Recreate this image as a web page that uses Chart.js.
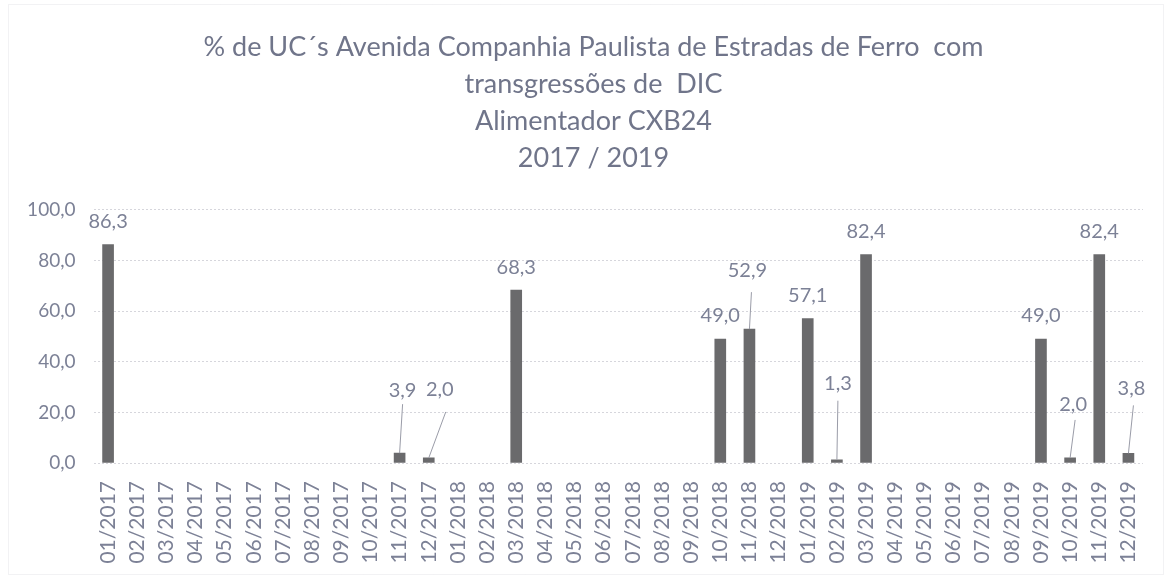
<!DOCTYPE html>
<html><head><meta charset="utf-8">
<script src="https://cdn.jsdelivr.net/npm/chart.js@4/dist/chart.umd.min.js"></script>
<style>html,body{margin:0;padding:0;background:#fff}#wrap{width:1171px;height:579px}</style>
</head><body><div id="wrap"><canvas id="c" width="1171" height="579"></canvas></div>
<script>
const titleLines = ["% de UC\u00b4s Avenida Companhia Paulista de Estradas de Ferro  com", "transgress\u00f5es de  DIC", "Alimentador CXB24", "2017 / 2019"];
const categories = ["01/2017","02/2017","03/2017","04/2017","05/2017","06/2017","07/2017","08/2017","09/2017","10/2017","11/2017","12/2017",
"01/2018","02/2018","03/2018","04/2018","05/2018","06/2018","07/2018","08/2018","09/2018","10/2018","11/2018","12/2018",
"01/2019","02/2019","03/2019","04/2019","05/2019","06/2019","07/2019","08/2019","09/2019","10/2019","11/2019","12/2019"];
const values = [86.3,null,null,null,null,null,null,null,null,null,3.9,2.0,
null,null,68.3,null,null,null,null,null,null,49.0,52.9,null,
57.1,1.3,82.4,null,null,null,null,null,49.0,2.0,82.4,3.8];
const yTicks = [0,20,40,60,80,100];
// label placement (pixel offsets from bar top) for labels with leader lines
const labelOffsets = {10:{dx:3,dy:-63,lx:3,ly:-49}, 11:{dx:11,dy:-68,lx:17,ly:-46}, 22:{dx:-2,dy:-59,lx:2,ly:-37},
  25:{dx:1,dy:-76,lx:1,ly:-59}, 33:{dx:3,dy:-53,lx:5,ly:-38}, 35:{dx:3,dy:-65,lx:5,ly:-48}};

const fmt = v => v.toFixed(1).replace('.', ',');
const TEXT = '#7c8196';

const labelPlugin = {
  id: 'labels',
  afterLayout(chart) {
    if (chart.titleBlock) { chart.titleBlock.left = 44; }
  },
  afterDatasetsDraw(chart) {
    const ctx = chart.ctx;
    const meta = chart.getDatasetMeta(0);
    ctx.save();
    ctx.font = '20px Lato';
    ctx.fillStyle = TEXT;
    ctx.textAlign = 'center';
    ctx.textBaseline = 'middle';
    meta.data.forEach((bar, i) => {
      const v = values[i];
      if (v === null) return;
      const x = bar.x, top = bar.y;
      const o = labelOffsets[i];
      if (o) {
        ctx.strokeStyle = '#9a9ca8';
        ctx.lineWidth = 1;
        ctx.beginPath();
        ctx.moveTo(x + o.lx, top + o.ly);
        ctx.lineTo(x, top);
        ctx.stroke();
        ctx.fillText(fmt(v), x + o.dx, top + o.dy);
      } else {
        ctx.fillText(fmt(v), x, top - 23);
      }
    });
    ctx.restore();
  }
};
const borderPlugin = {
  id: 'border',
  beforeDraw(chart) {
    const ctx = chart.ctx;
    ctx.save();
    ctx.fillStyle = '#fff';
    ctx.fillRect(0, 0, chart.width, chart.height);
    ctx.strokeStyle = '#e4e4e8';
    ctx.setLineDash([1, 1]);
    ctx.strokeRect(8.5, 4.5, 1155, 570);
    ctx.restore();
  }
};

new Chart(document.getElementById('c'), {
  type: 'bar',
  data: { labels: categories, datasets: [{ data: values, backgroundColor: '#6a6a6c', barThickness: 11 }] },
  options: {
    responsive: false, animation: false,
    layout: { padding: { left: 0, right: 28, top: 0, bottom: 0 } },
    plugins: {
      legend: { display: false }, tooltip: { enabled: false },
      title: { display: true, text: titleLines, color: '#70758a', font: { family: 'Lato', size: 27, weight: 'normal', lineHeight: 1.37 }, padding: { top: 29, bottom: 33 } }
    },
    scales: {
      x: {
        grid: { display: false }, border: { display: false },
        ticks: { color: TEXT, font: { family: 'Lato', size: 21 }, minRotation: 90, maxRotation: 90, autoSkip: false, padding: 10 },
        afterFit(s) { s.height = 116; }
      },
      y: {
        min: 0, max: 100,
        afterBuildTicks(s) { s.ticks = yTicks.map(v => ({ value: v })); },
        grid: { color: '#d6d6dc', drawTicks: false, lineWidth: 1 },
        border: { display: false, dash: [2, 2] },
        ticks: { color: TEXT, font: { family: 'Lato', size: 19 }, padding: 18, callback: v => fmt(v) },
        afterFit(s) { s.width = 93.5; }
      }
    }
  },
  plugins: [borderPlugin, labelPlugin]
});
</script></body></html>
